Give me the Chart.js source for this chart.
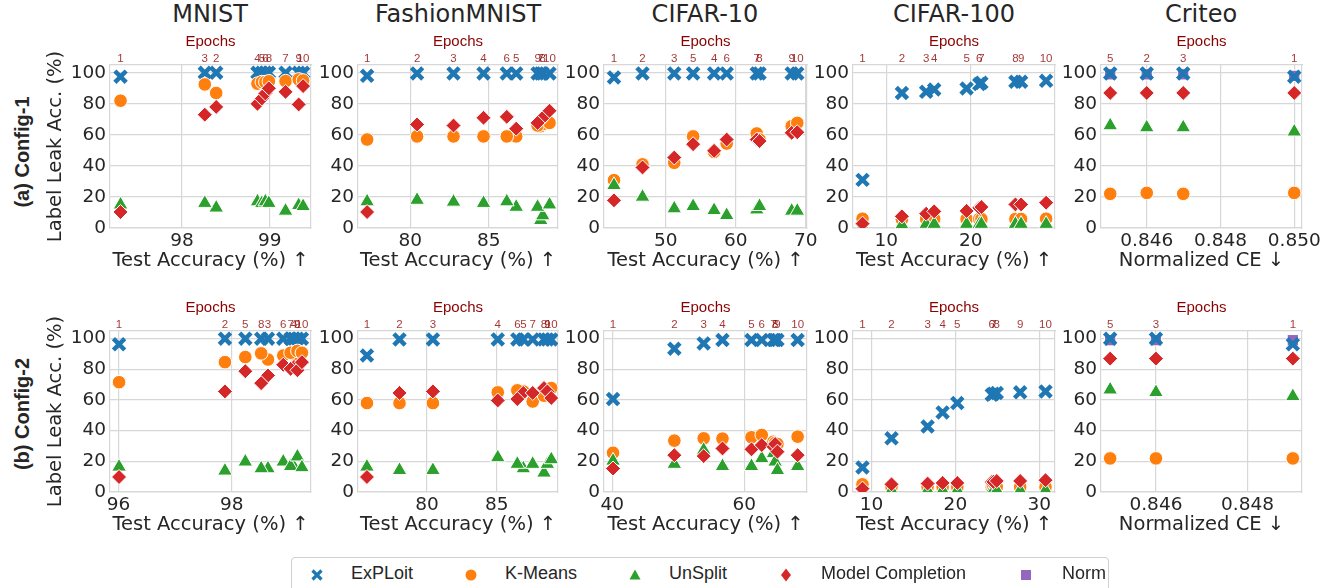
<!DOCTYPE html>
<html>
<head>
<meta charset="utf-8">
<script src="https://cdn.jsdelivr.net/npm/chart.js@4.4.1/dist/chart.umd.min.js"></script>
<style>
  body { margin: 0; background: #fff; }
  #fig { position: relative; width: 1334px; height: 588px; overflow: hidden; font-family: "DejaVu Sans", sans-serif; color: #262626; background: #fff; }
  #fig canvas { position: absolute; }
  .ptitle { position: absolute; top: 0; height: 28px; line-height: 28px; font-size: 24px; transform: translateX(-50%); white-space: nowrap; }
  .rowlabel { position: absolute; font-family: "Liberation Sans", Arial, sans-serif; font-weight: bold; font-size: 20px; white-space: nowrap; transform: translate(-50%, -50%) rotate(-90deg); }
  #legend { position: absolute; left: 291px; top: 557px; width: 816px; height: 40px; border: 1px solid #d0d0d0; border-radius: 4px; background: #fff; font-family: "Liberation Sans", Arial, sans-serif; font-size: 18px; color: #262626; }
  #legend svg { position: absolute; top: 9px; }
  #legend span { position: absolute; top: 15px; transform: translateY(-50%); white-space: nowrap; }
</style>
</head>
<body>
<div id="fig">
  <div class="ptitle" style="left:210px">MNIST</div>
  <div class="ptitle" style="left:458px">FashionMNIST</div>
  <div class="ptitle" style="left:705px">CIFAR-10</div>
  <div class="ptitle" style="left:954px">CIFAR-100</div>
  <div class="ptitle" style="left:1201px">Criteo</div>
  <div class="rowlabel" style="left:22px; top:152px">(a) Config-1</div>
  <div class="rowlabel" style="left:22px; top:414px">(b) Config-2</div>

  <canvas id="c1_0"></canvas><canvas id="c1_1"></canvas><canvas id="c1_2"></canvas><canvas id="c1_3"></canvas><canvas id="c1_4"></canvas>
  <canvas id="c2_0"></canvas><canvas id="c2_1"></canvas><canvas id="c2_2"></canvas><canvas id="c2_3"></canvas><canvas id="c2_4"></canvas>

  <div id="legend">
    <svg width="16" height="16" style="left:17px"><path d="M3.5 3.5 L12.5 12.5 M12.5 3.5 L3.5 12.5" stroke="#1f77b4" stroke-width="3.2"/></svg>
    <span style="left:59px">ExPLoit</span>
    <svg width="16" height="16" style="left:171px"><circle cx="8" cy="8" r="5.5" fill="#ff7f0e"/></svg>
    <span style="left:213px">K-Means</span>
    <svg width="16" height="16" style="left:335px"><path d="M8 2.5 L13.5 12.5 L2.5 12.5 Z" fill="#2ca02c"/></svg>
    <span style="left:377px">UnSplit</span>
    <svg width="16" height="16" style="left:486px"><path d="M8 1.5 L13 8 L8 14.5 L3 8 Z" fill="#d62728"/></svg>
    <span style="left:529px">Model Completion</span>
    <svg width="16" height="16" style="left:726px"><rect x="3" y="3" width="10" height="10" fill="#9467bd"/></svg>
    <span style="left:770px">Norm</span>
  </div>
</div>

<script>
// ---- data: (a) Config-1, values listed for epochs 1..10 ----
const EPOCHS = [1, 2, 3, 4, 5, 6, 7, 8, 9, 10];

const mnist1Acc     = [97.30, 98.39, 98.26, 98.86, 98.91, 98.95, 99.18, 98.99, 99.33, 99.38];
const mnist1Exploit = [97.5, 100, 100, 100, 100, 100, 100, 100, 100, 100];
const mnist1Kmeans  = [82, 87, 92.5, 93, 94, 94, 94.6, 94.5, 95.7, 95];
const mnist1Unsplit = [15, 13, 16, 17, 16, 17, 11, 16, 14.6, 14];
const mnist1Mc      = [10.3, 78, 73, 80, 83.4, 86.7, 87.7, 90, 79.6, 91.4];

const fashion1Acc     = [77.25, 80.43, 82.75, 84.66, 86.74, 86.14, 88.3, 88.43, 88.1, 88.86];
const fashion1Exploit = [98, 99.6, 99.6, 99.6, 99.6, 99.6, 99.6, 99.6, 99.6, 99.6];
const fashion1Kmeans  = [57, 59, 59, 59, 59, 59, 65.6, 67, 66, 67.7];
const fashion1Unsplit = [17, 18, 16.8, 16, 13.5, 17, 5, 8, 13.5, 15];
const fashion1Mc      = [10.3, 66.7, 66, 71, 64, 71.6, 69.5, 71, 67.7, 75.5];

const cifar10_1Acc     = [42.58, 46.66, 51.2, 56.9, 53.9, 58.7, 63.0, 63.4, 68.0, 68.8];
const cifar10_1Exploit = [97, 99.6, 99.6, 99.6, 99.6, 99.6, 99.6, 99.6, 99.6, 99.6];
const cifar10_1Kmeans  = [30.8, 41, 42, 49, 59, 54.4, 60.9, 57, 65.6, 67.7];
const cifar10_1Unsplit = [27.5, 20, 12.5, 11.4, 14, 8.2, 11.8, 14, 11, 11];
const cifar10_1Mc      = [17.8, 39, 45.4, 49.7, 54, 57, 57, 56, 61.3, 61.7];

const cifar100_1Acc     = [7.2, 11.85, 14.72, 15.67, 19.5, 21.0, 21.25, 25.27, 25.94, 28.9];
const cifar100_1Exploit = [31, 87, 87.7, 89.2, 89.9, 92.7, 93.5, 94.2, 94.2, 94.8];
const cifar100_1Kmeans  = [6, 5.5, 5.8, 5.8, 5.8, 5.8, 5.8, 5.8, 5.8, 6];
const cifar100_1Unsplit = [1, 2, 2.5, 2.5, 2.5, 2.5, 2.5, 2.5, 2.5, 2.5];
const cifar100_1Mc      = [2.8, 7.5, 9.2, 10.7, 11, 13, 13.5, 15.2, 15.2, 16.3];

const criteo1Epochs  = [1, 2, 3, 5];
const criteo1Ce      = [0.8500, 0.8460, 0.84699, 0.84501];
const criteo1Exploit = [97.4, 99.6, 99.6, 99.6];
const criteo1Norm    = [98, 99, 99, 99];
const criteo1Kmeans  = [22.6, 22.6, 22, 22];
const criteo1Unsplit = [62, 64.7, 64.7, 66];
const criteo1Mc      = [87, 87, 87, 87];

// ---- data: (b) Config-2 ----
const mnist2Acc     = [96.01, 97.88, 98.64, 99.10, 98.24, 98.91, 99.04, 98.52, 99.16, 99.24];
const mnist2Exploit = [96.3, 100, 100, 100, 100, 100, 100, 100, 100, 100];
const mnist2Kmeans  = [71.6, 84.7, 86.4, 89.7, 88, 89, 90.8, 90.4, 92, 90.8];
const mnist2Unsplit = [16.4, 13.8, 15.3, 16.4, 19.7, 19.7, 16.8, 15.3, 23, 16];
const mnist2Mc      = [9.8, 65.6, 76, 81.6, 78.8, 83, 80.3, 71, 79.4, 84.7];

const fashion2Acc     = [75.71, 78.04, 80.43, 85.07, 86.9, 86.47, 87.57, 88.38, 88.62, 88.9];
const fashion2Exploit = [89, 99.5, 99.5, 99.5, 99.5, 99.5, 99.5, 99.5, 99.5, 99.5];
const fashion2Kmeans  = [58, 58, 58, 65, 65.6, 66.3, 59, 62.8, 66.7, 67.8];
const fashion2Unsplit = [16.4, 14.2, 14.2, 22.5, 15.3, 18.2, 18.2, 12.5, 18.2, 21.2];
const fashion2Mc      = [9.8, 64.6, 65.6, 59.7, 64.6, 60.6, 64.6, 67.8, 65.6, 61.3];

const cifar10_2Acc     = [40.1, 49.4, 53.85, 56.7, 61.1, 62.66, 64.43, 64.69, 65.04, 68.1];
const cifar10_2Exploit = [60.6, 93.4, 96.9, 99.1, 99.1, 99.1, 99.1, 99.1, 99.1, 99.1];
const cifar10_2Kmeans  = [25.6, 33.5, 35, 34.8, 35.7, 37.2, 32.8, 32, 31.3, 36.1];
const cifar10_2Unsplit = [20.3, 18.2, 27.4, 16.8, 16.8, 21.9, 25.2, 19.7, 14.2, 16.8];
const cifar10_2Mc      = [15.3, 24, 23.4, 28.4, 27.8, 30.6, 29.5, 31.3, 26.3, 24];

const cifar100_2Acc     = [8.93, 12.39, 16.69, 18.48, 20.23, 24.34, 24.53, 24.93, 27.72, 30.74];
const cifar100_2Exploit = [16, 35, 42.7, 51.9, 58, 63.5, 64.1, 64.6, 65, 65.6];
const cifar100_2Kmeans  = [5, 3.3, 3.3, 3.3, 3.3, 3.3, 3.3, 3.3, 3.3, 3.3];
const cifar100_2Unsplit = [1.1, 1.1, 1.1, 1.1, 1.1, 1.1, 1.1, 1.1, 1.1, 1.1];
const cifar100_2Mc      = [2.2, 5, 5.5, 5.9, 5.9, 6.6, 6.6, 7.2, 7.2, 7.7];

const criteo2Epochs  = [1, 3, 5];
const criteo2Ce      = [0.84899, 0.8460, 0.8450];
const criteo2Exploit = [96.3, 100, 100];
const criteo2Norm    = [99, 99, 99];
const criteo2Kmeans  = [21.9, 21.9, 21.9];
const criteo2Unsplit = [62.4, 65, 66.7];
const criteo2Mc      = [87, 87, 87];

const Y_TICKS_STEP = 20;

// ---- layout / style ----
const COLORS = { exploit: '#1f77b4', kmeans: '#ff7f0e', unsplit: '#2ca02c', mc: '#d62728', norm: '#9467bd' };
const TEXT = '#262626';
const GRID = '#d7d7d7';
const ROWS = [{ top: 65, bottom: 228 }, { top: 331, bottom: 492 }];
const COLS = [{ left: 110, right: 311 }, { left: 358, right: 558 }, { left: 604, right: 807 }, { left: 853, right: 1055 }, { left: 1101, right: 1302 }];
const TOP_H = 34, BOTTOM_H = 45, PAD_R = 30;

function points(xs, ys) {
    return xs.map((x, i) => ({ x: x, y: ys[i] }));
}

function initializePanel(row, col, p) {
    const canvas = document.getElementById(`c${row + 1}_${col}`);
    const r = ROWS[row], c = COLS[col];
    const yW = col === 0 ? 66 : 46;
    const w = yW + (c.right - c.left) + PAD_R;
    const h = TOP_H + (r.bottom - r.top) + BOTTOM_H;
    canvas.width = w;
    canvas.height = h;
    canvas.style.left = (c.left - yW) + 'px';
    canvas.style.top = (r.top - TOP_H) + 'px';

    const filled = (label, ys, color, style, radius, order) => ({
        label: label, data: points(p.x, ys), pointStyle: style, pointRadius: radius,
        pointBackgroundColor: color, pointBorderColor: '#ffffff', pointBorderWidth: 1,
        order: order, clip: 0
    });

    const datasets = [];
    if (p.norm) datasets.push(filled('Norm', p.norm, COLORS.norm, 'rect', 8, 5));
    datasets.push({
        label: 'ExPLoit', data: points(p.x, p.exploit), pointStyle: 'crossRot', pointRadius: 8,
        pointBorderColor: COLORS.exploit, pointBorderWidth: 4.5, order: 4, clip: 0
    });
    datasets.push(filled('K-Means', p.kmeans, COLORS.kmeans, 'circle', 6.8, 3));
    datasets.push(filled('UnSplit', p.unsplit, COLORS.unsplit, 'triangle', 8.5, 2));
    datasets.push(filled('Model Completion', p.mc, COLORS.mc, 'rectRot', 7.5, 1));

    const tickFont = { family: 'DejaVu Sans', size: 18.5 };
    const titleFont = { family: 'DejaVu Sans', size: 19.5 };

    new Chart(canvas.getContext('2d'), {
        type: 'scatter',
        data: { datasets: datasets },
        options: {
            responsive: false,
            animation: false,
            devicePixelRatio: 1,
            layout: { padding: { left: 0, right: PAD_R, top: 0, bottom: 0 } },
            plugins: { legend: { display: false }, tooltip: { enabled: false } },
            scales: {
                x: {
                    type: 'linear', position: 'bottom', min: p.xMin, max: p.xMax,
                    ticks: {
                        stepSize: p.xStep, includeBounds: false, autoSkip: false, maxRotation: 0,
                        color: TEXT, font: tickFont, padding: 2,
                        callback: v => p.xDecimals ? v.toFixed(p.xDecimals) : String(Math.round(v))
                    },
                    grid: { color: GRID, lineWidth: 1.2, drawTicks: false },
                    border: { color: GRID, width: 1.2 },
                    title: { display: true, text: p.xTitle, color: TEXT, font: titleFont, padding: { top: 0, bottom: 0 } },
                    afterFit: s => { s.height = BOTTOM_H; }
                },
                top: {
                    axis: 'x', type: 'linear', position: 'top', min: p.xMin, max: p.xMax,
                    afterBuildTicks: s => { s.ticks = p.x.map(v => ({ value: v })); },
                    ticks: {
                        autoSkip: false, maxRotation: 0, minRotation: 0, padding: 0,
                        color: 'rgba(139, 0, 0, 0.8)', font: { family: 'Liberation Sans', size: 11.5, lineHeight: 1 },
                        callback: (v, i) => String(p.epochs[i])
                    },
                    grid: { display: false, drawTicks: false },
                    border: { color: GRID, width: 1.2 },
                    title: { display: true, text: 'Epochs', color: '#8b0000', font: { family: 'Liberation Sans', size: 15 }, padding: { top: 2, bottom: 0 } },
                    afterFit: s => { s.height = TOP_H; }
                },
                y: {
                    type: 'linear', position: 'left', min: 0, max: 105,
                    ticks: { stepSize: Y_TICKS_STEP, includeBounds: false, color: TEXT, font: tickFont, padding: 4 },
                    grid: { color: GRID, lineWidth: 1.2, drawTicks: false },
                    border: { color: GRID, width: 1.2 },
                    title: {
                        display: col === 0, text: 'Label Leak Acc. (%)', color: TEXT, font: titleFont,
                        padding: { top: 0, bottom: 0 }
                    },
                    afterFit: s => { s.width = yW; }
                },
                right: {
                    axis: 'y', type: 'linear', position: 'right',
                    ticks: { display: false },
                    grid: { display: false, drawTicks: false },
                    border: { color: GRID, width: 1.2 },
                    afterFit: s => { s.width = 0; }
                }
            }
        }
    });
}

const ACC = 'Test Accuracy (%) \u2191';
const CE = 'Normalized CE \u2193';

const panels1 = [
    { epochs: EPOCHS, x: mnist1Acc, exploit: mnist1Exploit, kmeans: mnist1Kmeans, unsplit: mnist1Unsplit, mc: mnist1Mc, xMin: 97.18, xMax: 99.47, xStep: 1, xTitle: ACC },
    { epochs: EPOCHS, x: fashion1Acc, exploit: fashion1Exploit, kmeans: fashion1Kmeans, unsplit: fashion1Unsplit, mc: fashion1Mc, xMin: 76.67, xMax: 89.4, xStep: 5, xTitle: ACC },
    { epochs: EPOCHS, x: cifar10_1Acc, exploit: cifar10_1Exploit, kmeans: cifar10_1Kmeans, unsplit: cifar10_1Unsplit, mc: cifar10_1Mc, xMin: 41.15, xMax: 70.19, xStep: 10, xTitle: ACC },
    { epochs: EPOCHS, x: cifar100_1Acc, exploit: cifar100_1Exploit, kmeans: cifar100_1Kmeans, unsplit: cifar100_1Unsplit, mc: cifar100_1Mc, xMin: 6.07, xMax: 29.95, xStep: 10, xTitle: ACC },
    { epochs: criteo1Epochs, x: criteo1Ce, exploit: criteo1Exploit, norm: criteo1Norm, kmeans: criteo1Kmeans, unsplit: criteo1Unsplit, mc: criteo1Mc, xMin: 0.84476, xMax: 0.85021, xStep: 0.002, xDecimals: 3, xTitle: CE }
];

const panels2 = [
    { epochs: EPOCHS, x: mnist2Acc, exploit: mnist2Exploit, kmeans: mnist2Kmeans, unsplit: mnist2Unsplit, mc: mnist2Mc, xMin: 95.85, xMax: 99.4, xStep: 2, xTitle: ACC },
    { epochs: EPOCHS, x: fashion2Acc, exploit: fashion2Exploit, kmeans: fashion2Kmeans, unsplit: fashion2Unsplit, mc: fashion2Mc, xMin: 75.07, xMax: 89.38, xStep: 5, xTitle: ACC },
    { epochs: EPOCHS, x: cifar10_2Acc, exploit: cifar10_2Exploit, kmeans: cifar10_2Kmeans, unsplit: cifar10_2Unsplit, mc: cifar10_2Mc, xMin: 38.73, xMax: 69.52, xStep: 20, xTitle: ACC },
    { epochs: EPOCHS, x: cifar100_2Acc, exploit: cifar100_2Exploit, kmeans: cifar100_2Kmeans, unsplit: cifar100_2Unsplit, mc: cifar100_2Mc, xMin: 7.8, xMax: 31.87, xStep: 10, xTitle: ACC },
    { epochs: criteo2Epochs, x: criteo2Ce, exploit: criteo2Exploit, norm: criteo2Norm, kmeans: criteo2Kmeans, unsplit: criteo2Unsplit, mc: criteo2Mc, xMin: 0.8448, xMax: 0.84919, xStep: 0.002, xDecimals: 3, xTitle: CE }
];

panels1.forEach((p, i) => initializePanel(0, i, p));
panels2.forEach((p, i) => initializePanel(1, i, p));
</script>
</body>
</html>
